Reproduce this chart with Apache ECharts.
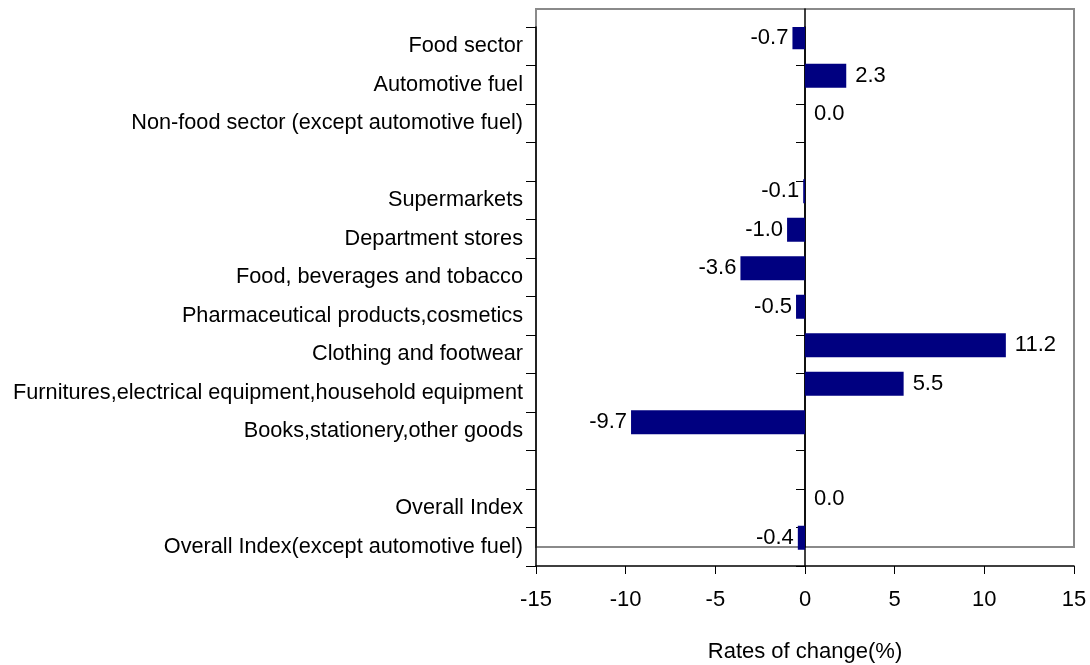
<!DOCTYPE html>
<html>
<head>
<meta charset="utf-8">
<script src="https://cdn.jsdelivr.net/npm/echarts@6/dist/echarts.min.js"></script>
<style>
html,body{margin:0;padding:0;background:#fff;}
#chart{width:1090px;height:665px;}
</style>
</head>
<body>
<div id="chart"></div>
<script>
// ---- data ----
const categories = [
  'Food sector',
  'Automotive fuel',
  'Non-food sector (except automotive fuel)',
  '',
  'Supermarkets',
  'Department stores',
  'Food, beverages and tobacco',
  'Pharmaceutical products,cosmetics',
  'Clothing and footwear',
  'Furnitures,electrical equipment,household equipment',
  'Books,stationery,other goods',
  ' ',
  'Overall Index',
  'Overall Index(except automotive fuel)'
];
const values = [-0.7, 2.3, 0.0, null, -0.1, -1.0, -3.6, -0.5, 11.2, 5.5, -9.7, null, 0.0, -0.4];
const xTicks = { min: -15, max: 15, interval: 5 };
const xAxisName = 'Rates of change(%)';

const FONT = '"Liberation Sans", Arial, sans-serif';

const barData = values.map(v => {
  if (v === null) return '-';
  return {
    value: v,
    label: v < 0 ? { position: 'left', distance: 4 } : { position: 'right', distance: 9 }
  };
});
const spacer = values.map(() => '-');

const chart = echarts.init(document.getElementById('chart'), null, { renderer: 'canvas' });
chart.setOption({
  animation: false,
  backgroundColor: '#fff',
  textStyle: { fontFamily: FONT },
  grid: [
    { left: 536, right: 16, top: 27, bottom: 99, containLabel: false, outerBoundsMode: 'none' },
    { left: 536, right: 16, top: 9, bottom: 118, containLabel: false, outerBoundsMode: 'none', show: true, borderColor: '#8a8a8a', borderWidth: 2, backgroundColor: 'transparent' }
  ],
  xAxis: [
    {
      gridIndex: 0, type: 'value', min: xTicks.min, max: xTicks.max, interval: xTicks.interval,
      name: xAxisName, nameLocation: 'middle', nameGap: 75,
      nameTextStyle: { fontFamily: FONT, fontSize: 22, color: '#000' },
      axisLine: { show: true, onZero: false, lineStyle: { color: '#000', width: 1.5 } },
      axisTick: { show: true, length: 8, lineStyle: { color: '#000' } },
      axisLabel: { fontFamily: FONT, fontSize: 22, color: '#000', margin: 23 },
      splitLine: { show: false }
    },
    {
      gridIndex: 1, type: 'value', min: xTicks.min, max: xTicks.max, show: false
    }
  ],
  yAxis: [
    {
      gridIndex: 0, type: 'category', data: categories, inverse: true, position: 'left',
      axisLine: { show: true, onZero: false, lineStyle: { color: '#000', width: 1.5 } },
      axisTick: { show: true, length: 10, lineStyle: { color: '#000' } },
      axisLabel: { fontFamily: FONT, fontSize: 21.7, color: '#000', margin: 13 },
      splitLine: { show: false }
    },
    {
      gridIndex: 0, type: 'category', data: categories, inverse: true, position: 'left',
      axisLine: { show: true, onZero: true, lineStyle: { color: '#000', width: 1.5 } },
      axisTick: { show: true, length: 9, lineStyle: { color: '#000' } },
      axisLabel: { show: false },
      splitLine: { show: false }
    },
    {
      gridIndex: 1, type: 'value', min: 0, max: 1, position: 'left',
      axisLine: { show: true, onZero: true, lineStyle: { color: '#000', width: 1.5 } },
      axisTick: { show: false }, axisLabel: { show: false }, splitLine: { show: false }
    }
  ],
  series: [
    {
      type: 'bar', xAxisIndex: 0, yAxisIndex: 0,
      data: barData,
      barWidth: 24, barGap: '-25%',
      itemStyle: { color: '#000080' },
      label: {
        show: true, fontFamily: FONT, fontSize: 22, color: '#000',
        formatter: p => Number(p.value).toFixed(1)
      },
      z: 5
    },
    {
      type: 'bar', xAxisIndex: 0, yAxisIndex: 0,
      data: spacer, barWidth: 24, barGap: '-25%', silent: true
    }
  ]
});
</script>
</body>
</html>
